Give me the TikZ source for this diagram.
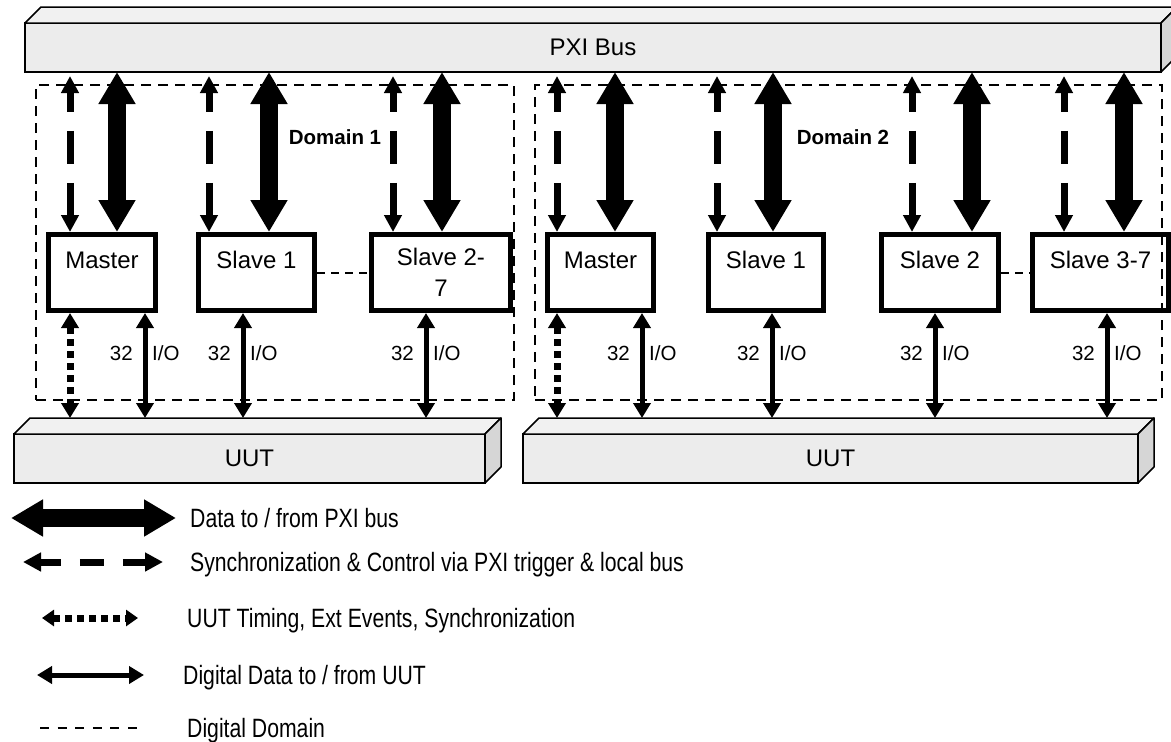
\documentclass[tikz,border=0pt]{standalone}
\usepackage{fontspec}
\setmainfont{Liberation Sans}
\newfontfamily\narrowfont[FakeStretch=0.8]{Liberation Sans}
\usetikzlibrary{arrows.meta}

\begin{document}
\begin{tikzpicture}[x=1pt, y=-1pt,
  slab/.style={draw, line width=1.5pt, fill=gray!15, minimum height=49pt, inner sep=0pt, outer sep=0pt, font=\fontsize{24pt}{28pt}\selectfont},
  slabtop/.style={draw, line width=1.5pt, fill=gray!11, line join=round},
  slabside/.style={draw, line width=1.5pt, fill=gray!32, line join=round},
  modbox/.style={draw, line width=5pt, minimum height=76pt, inner sep=0pt, font=\fontsize{24pt}{31pt}\selectfont},
  toptext/.style={text height=17pt, text depth=25pt},
  domainbox/.style={draw, line width=2.5pt, dash pattern=on 10pt off 7pt, inner sep=0pt},
  domlabel/.style={font=\bfseries\fontsize{20.5pt}{24pt}\selectfont, inner sep=0pt},
  data/.style={line width=18pt, {Triangle[length=32pt,width=35pt]}-{Triangle[length=32pt,width=35pt]}},
  sync/.style={line width=7pt, dash pattern=on 33pt off 19pt, dash phase=13pt, {Triangle[length=17pt,width=17pt]}-{Triangle[length=17pt,width=17pt]}},
  timing/.style={line width=7pt, dash pattern=on 7pt off 5pt, {Triangle[length=15pt,width=17pt]}-{Triangle[length=15pt,width=17pt]}},
  io/.style={line width=5pt, {Triangle[length=15pt,width=17pt]}-{Triangle[length=15pt,width=17pt]}},
  link/.style={line width=2pt, dash pattern=on 8pt off 6pt},
  lbl/.style={font=\fontsize{20.5pt}{24pt}\selectfont, inner sep=0pt, text height=14.7pt, text depth=0pt},
  legendtext/.style={font=\narrowfont\fontsize{26.5pt}{30pt}\selectfont, anchor=west, inner sep=0pt, text height=19pt, text depth=0pt},
  keysync/.style={line width=7pt, dash pattern=on 24pt off 19pt, dash phase=3pt, {Triangle[length=18pt,width=18pt]}-{Triangle[length=18pt,width=18pt]}},
  keytiming/.style={line width=7pt, dash pattern=on 7pt off 5pt, {Triangle[length=12pt,width=16pt]}-{Triangle[length=12pt,width=16pt]}},
  keydomain/.style={line width=2.5pt, dash pattern=on 9pt off 8.6pt}]
  \useasboundingbox (0,0) rectangle (1171,742);

  % PXI bus
  \node[slab, minimum width=1136pt] (bus) at (593,47.5) {PXI Bus};
  \draw[slabtop] (bus.north west) -- ++(16,-16) -- ++(1136,0) -- (bus.north east) -- cycle;
  \draw[slabside] (bus.north east) -- ++(16,-16) -- ++(0,49) -- (bus.south east) -- cycle;

  % UUT slabs
  \node[slab, minimum width=471pt] (uut1) at (249.5,458.5) {UUT};
  \draw[slabtop] (uut1.north west) -- ++(16,-16) -- ++(471,0) -- (uut1.north east) -- cycle;
  \draw[slabside] (uut1.north east) -- ++(16,-16) -- ++(0,49) -- (uut1.south east) -- cycle;
  \node[slab, minimum width=615pt] (uut2) at (830.5,458.5) {UUT};
  \draw[slabtop] (uut2.north west) -- ++(16,-16) -- ++(615,0) -- (uut2.north east) -- cycle;
  \draw[slabside] (uut2.north east) -- ++(16,-16) -- ++(0,49) -- (uut2.south east) -- cycle;

  % modules, domain 1
  \node[modbox, toptext, minimum width=107pt] (m1) at (102,272.5) {Master};
  \node[modbox, toptext, minimum width=116pt] (s11) at (256.5,272.5) {Slave 1};
  \node[modbox, align=center, minimum width=139pt] (s12) at (441,272.5) {Slave 2-\\7};
  \draw[link] (s11.east) -- (s12.west);

  % modules, domain 2
  \node[modbox, toptext, minimum width=106pt] (m2) at (600.5,272.5) {Master};
  \node[modbox, toptext, minimum width=115pt] (s21) at (766,272.5) {Slave 1};
  \node[modbox, toptext, minimum width=117pt] (s22) at (940,272.5) {Slave 2};
  \node[modbox, toptext, minimum width=136pt] (s23) at (1100.5,272.5) {Slave 3-7};
  \draw[link] (s22.east) -- (s23.west);

  % digital domains
  \node[domainbox, minimum width=478pt, minimum height=315pt] (dom1) at (275,242.5) {};
  \node[domainbox, minimum width=627pt, minimum height=315pt] (dom2) at (848.5,242.5) {};
  \node[domlabel] (dom1lbl) at (335,137) {Domain 1};
  \node[domlabel] (dom2lbl) at (843,137) {Domain 2};

  % PXI side: sync and data
  \coordinate (m1s) at (70,76);    \draw[sync] (m1s) -- (m1.north -| m1s);
  \coordinate (m1d) at (117,72);   \draw[data] (m1d) -- (m1.north -| m1d);
  \coordinate (s11s) at (209,76);  \draw[sync] (s11s) -- (s11.north -| s11s);
  \coordinate (s11d) at (269,72);  \draw[data] (s11d) -- (s11.north -| s11d);
  \coordinate (s12s) at (393,76);  \draw[sync] (s12s) -- (s12.north -| s12s);
  \coordinate (s12d) at (442,72);  \draw[data] (s12d) -- (s12.north -| s12d);
  \coordinate (m2s) at (557,76);   \draw[sync] (m2s) -- (m2.north -| m2s);
  \coordinate (m2d) at (615,72);   \draw[data] (m2d) -- (m2.north -| m2d);
  \coordinate (s21s) at (717,76);  \draw[sync] (s21s) -- (s21.north -| s21s);
  \coordinate (s21d) at (773,72);  \draw[data] (s21d) -- (s21.north -| s21d);
  \coordinate (s22s) at (912,76);  \draw[sync] (s22s) -- (s22.north -| s22s);
  \coordinate (s22d) at (972,72);  \draw[data] (s22d) -- (s22.north -| s22d);
  \coordinate (s23s) at (1064,76); \draw[sync] (s23s) -- (s23.north -| s23s);
  \coordinate (s23d) at (1124,72); \draw[data] (s23d) -- (s23.north -| s23d);

  % UUT side: timing and 32 I/O
  \coordinate (m1t) at (70,418);   \draw[timing] (m1.south -| m1t) -- (m1t);
  \coordinate (m2t) at (557,418);  \draw[timing] (m2.south -| m2t) -- (m2t);
  \coordinate (m1i) at (145,418);  \draw[io] (m1.south -| m1i) -- (m1i);
  \coordinate (s11i) at (243,418); \draw[io] (s11.south -| s11i) -- (s11i);
  \coordinate (s12i) at (426,418); \draw[io] (s12.south -| s12i) -- (s12i);
  \coordinate (m2i) at (642,418);  \draw[io] (m2.south -| m2i) -- (m2i);
  \coordinate (s21i) at (772,418); \draw[io] (s21.south -| s21i) -- (s21i);
  \coordinate (s22i) at (935,418); \draw[io] (s22.south -| s22i) -- (s22i);
  \coordinate (s23i) at (1107,418); \draw[io] (s23.south -| s23i) -- (s23i);
  \node[lbl, anchor=east] (m1n) at (133,353) {32};   \node[lbl, anchor=west] (m1w) at (152,353) {I/O};
  \node[lbl, anchor=east] (s11n) at (231,353) {32};  \node[lbl, anchor=west] (s11w) at (250,353) {I/O};
  \node[lbl, anchor=east] (s12n) at (414,353) {32};  \node[lbl, anchor=west] (s12w) at (433,353) {I/O};
  \node[lbl, anchor=east] (m2n) at (630,353) {32};   \node[lbl, anchor=west] (m2w) at (649,353) {I/O};
  \node[lbl, anchor=east] (s21n) at (760,353) {32};  \node[lbl, anchor=west] (s21w) at (779,353) {I/O};
  \node[lbl, anchor=east] (s22n) at (923,353) {32};  \node[lbl, anchor=west] (s22w) at (942,353) {I/O};
  \node[lbl, anchor=east] (s23n) at (1095,353) {32}; \node[lbl, anchor=west] (s23w) at (1114,353) {I/O};

  % legend
  \node[legendtext] (k1) at (190,518) {Data to / from PXI bus};
  \draw[data] ([xshift=-179pt]k1.west) -- ([xshift=-14pt]k1.west);
  \node[legendtext] (k2) at (190,562) {Synchronization \& Control via PXI trigger \& local bus};
  \draw[keysync] ([xshift=-167pt]k2.west) -- ([xshift=-27pt]k2.west);
  \node[legendtext] (k3) at (187,618) {UUT Timing, Ext Events, Synchronization};
  \draw[keytiming] ([xshift=-145pt]k3.west) -- ([xshift=-49pt]k3.west);
  \node[legendtext] (k4) at (183,675) {Digital Data to / from UUT};
  \draw[io] ([xshift=-146pt]k4.west) -- ([xshift=-39pt]k4.west);
  \node[legendtext] (k5) at (187,728) {Digital Domain};
  \draw[keydomain] ([xshift=-147pt]k5.west) -- ([xshift=-50pt]k5.west);
\end{tikzpicture}
\end{document}
